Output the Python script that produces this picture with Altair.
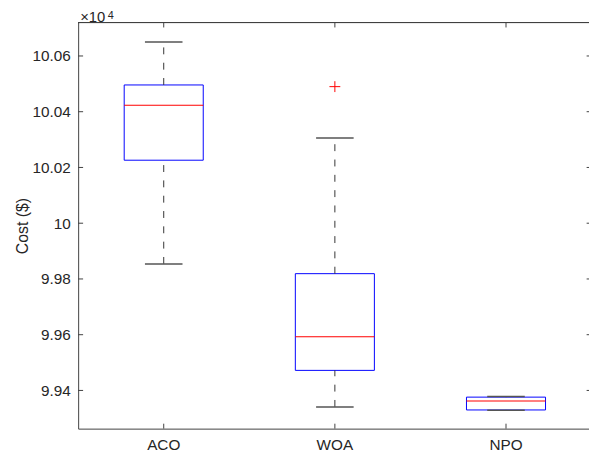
import altair as alt
import pandas as pd

# ---- data ----
categories = ["ACO", "WOA", "NPO"]
lower_whisker = [99854, 99341, 99329]
q1 = [100226, 99472, 99330]
median = [100423, 99593, 99362]
q3 = [100496, 99819, 99376]
upper_whisker = [100650, 100306, 99378]
outlier_cat = ["WOA"]
outlier_val = [100490]
y_ticks = [99400, 99600, 99800, 100000, 100200, 100400, 100600]
y_domain = [99263, 100720]
exp_base = ["×10"]
exp_power = ["4"]

W, H = 517, 411
XR = 519.6
FONT = "Liberation Sans"
TXT = "#262626"
AX = "#404040"

box_df = pd.DataFrame({
    "cat": categories, "lower": lower_whisker, "q1": q1,
    "median": median, "q3": q3, "upper": upper_whisker,
})
out_df = pd.DataFrame({"cat": outlier_cat, "val": outlier_val})
tick_df = pd.DataFrame({"v": y_ticks})

xscale = alt.Scale(domain=categories, paddingInner=0, paddingOuter=0, range=[0, XR])
yscale = alt.Scale(domain=y_domain, nice=False, zero=False)
xaxis = alt.Axis(title=None, labelAngle=0, ticks=False, labelPadding=9,
                 domainColor=AX, labelColor=TXT, labelFontSize=15.5, labelFont=FONT)
yaxis = alt.Axis(title="Cost ($)", values=y_ticks, ticks=False, labelPadding=8,
                 labelExpr="format(datum.value / 10000, '.2~f')",
                 domainColor=AX, labelColor=TXT, labelFontSize=15.5, labelFont=FONT,
                 titleFont=FONT, titleFontSize=16, titleFontWeight="normal",
                 titleColor=TXT, titleX=-48)

def X(field="cat"):
    return alt.X(f"{field}:N", scale=xscale, axis=xaxis, sort=categories)

def Y(field):
    return alt.Y(f"{field}:Q", scale=yscale, axis=yaxis)

base = alt.Chart(box_df)

boxes = base.mark_bar(width=80, fillOpacity=0, stroke="#0000ff", strokeWidth=1).encode(
    x=X(), y=Y("q1"), y2="q3")
medians = base.mark_tick(orient="horizontal", size=80, thickness=1, color="#ff0000",
                         opacity=1).encode(x=X(), y=Y("median"))
whisk_up = base.mark_rule(color="#333333", strokeDash=[7, 8.5], strokeWidth=1).encode(
    x=X(), y=Y("q3"), y2="upper")
whisk_lo = base.mark_rule(color="#333333", strokeDash=[7, 8.5], strokeWidth=1).encode(
    x=X(), y=Y("lower"), y2="q1")
cap_up = base.mark_tick(orient="horizontal", size=38, thickness=1.5, color="#555555",
                        opacity=1).encode(x=X(), y=Y("upper"))
cap_lo = base.mark_tick(orient="horizontal", size=38, thickness=1.5, color="#555555",
                        opacity=1).encode(x=X(), y=Y("lower"))
outliers = alt.Chart(out_df).mark_point(
    shape="M-1,0L1,0M0,-1L0,1", size=121, color="#ff0000", filled=False,
    strokeWidth=1, opacity=1).encode(x=X(), y=Y("val"))

# frame: top line and inward ticks
top_line = alt.Chart(tick_df).mark_rule(color=AX).encode(
    x=alt.value(0), x2=alt.value(XR), y=alt.value(0))
left_ticks = alt.Chart(tick_df).mark_rule(color=AX).encode(
    y=Y("v"), x=alt.value(0), x2=alt.value(5))
right_ticks = alt.Chart(tick_df).mark_rule(color=AX).encode(
    y=Y("v"), x=alt.value(XR - 5), x2=alt.value(XR))
bottom_ticks = base.mark_rule(color=AX).encode(
    x=X(), y=alt.value(H), y2=alt.value(H - 5))
top_ticks = base.mark_rule(color=AX).encode(
    x=X(), y=alt.value(0), y2=alt.value(5))

exp_txt = alt.Chart(pd.DataFrame({"t": exp_base})).mark_text(
    align="left", baseline="alphabetic", font=FONT, fontSize=15, color=TXT).encode(
    text="t:N", x=alt.value(2), y=alt.value(-1))
exp_pow = alt.Chart(pd.DataFrame({"t": exp_power})).mark_text(
    align="left", baseline="alphabetic", font=FONT, fontSize=11, color=TXT).encode(
    text="t:N", x=alt.value(30), y=alt.value(-4))

chart = alt.layer(
    boxes, whisk_up, whisk_lo, cap_up, cap_lo, medians, outliers,
    top_line, left_ticks, right_ticks, bottom_ticks, top_ticks, exp_txt, exp_pow,
).properties(
    width=W, height=H,
    autosize=alt.AutoSizeParams(type="none"),
    padding={"left": 71, "top": 12, "right": 0, "bottom": 25},
).configure_view(strokeWidth=0).configure_axis(grid=False)

chart.save("out.html", embed_options={"renderer": "svg", "actions": False})
